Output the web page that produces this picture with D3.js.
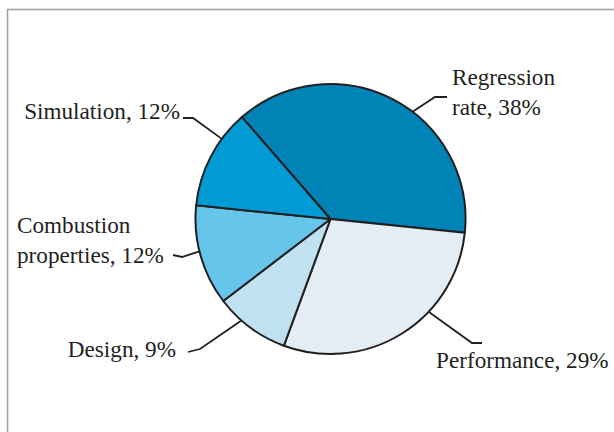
<!DOCTYPE html>
<html>
<head>
<meta charset="utf-8">
<script src="https://cdn.jsdelivr.net/npm/d3@7"></script>
<style>
  html, body { margin: 0; padding: 0; background: #fff; }
  svg { display: block; }
  .lbl { font-family: "Liberation Serif", "Times New Roman", serif; font-size: 23.2px; fill: #231f20; }
</style>
</head>
<body>
<svg id="chart" width="614" height="432"></svg>
<script>
// Research topics and their share of the publications (%)
const categories = ["Regression\nrate", "Performance", "Design", "Combustion\nproperties", "Simulation"];
const shares = [38, 29, 9, 12, 12];
const colors = ["#0083b7", "#e3edf3", "#c0e1f0", "#66c5eb", "#009bd4"];

const W = 614, H = 432;
const cx = 330.5, cy = 219, R = 135;

const svg = d3.select("#chart");

// Panel frame (top and left edges visible)
svg.append("rect")
  .attr("x", 7.5).attr("y", 9.5)
  .attr("width", W + 20).attr("height", H + 20)
  .attr("fill", "none")
  .attr("stroke", "#a3a3a3")
  .attr("stroke-width", 1.6);

const deg = Math.PI / 180;
const pie = d3.pie().sort(null).startAngle(-41 * deg).endAngle(319 * deg);
const arcs = pie(shares);
const arc = d3.arc().innerRadius(0).outerRadius(R);

const g = svg.append("g").attr("transform", `translate(${cx},${cy})`);

g.selectAll("path.slice")
  .data(arcs)
  .join("path")
  .attr("class", "slice")
  .attr("d", arc)
  .attr("fill", (d, i) => colors[i])
  .attr("stroke", "#231f20")
  .attr("stroke-width", 2)
  .attr("stroke-linejoin", "round");

// Label placement: where the leader touches the rim, its bend and end, and text position
const labelLayout = [
  { rim: 37.4,  bend: [435, 97],  end: [447, 97],  x: 452, y: 85,  anchor: "start" },
  { rim: 133.4, bend: [472, 343], end: [482, 343], x: 436, y: 368, anchor: "start" },
  { rim: 221.3, bend: [200, 349], end: [188, 352], x: 176, y: 357, anchor: "end" },
  { rim: 256.1, bend: [182, 257], end: [173, 255], x: 17,  y: 233, anchor: "start" },
  { rim: 306.4, bend: [193, 118], end: [183, 118], x: 180, y: 119, anchor: "end" }
];

const line = d3.line();
arcs.forEach((d, i) => {
  const L = labelLayout[i];
  const a = L.rim * deg;
  const rimPt = [cx + R * Math.sin(a), cy - R * Math.cos(a)];
  svg.append("path")
    .attr("d", line([rimPt, L.bend, L.end]))
    .attr("fill", "none")
    .attr("stroke", "#231f20")
    .attr("stroke-width", 1.8);

  const text = (categories[i] + ", " + d.data + "%").split("\n");
  const t = svg.append("text")
    .attr("class", "lbl")
    .attr("text-anchor", L.anchor)
    .attr("x", L.x).attr("y", L.y);
  text.forEach((s, k) => {
    t.append("tspan").attr("x", L.x).attr("dy", k === 0 ? 0 : 29.5).text(s);
  });
});
</script>
</body>
</html>
